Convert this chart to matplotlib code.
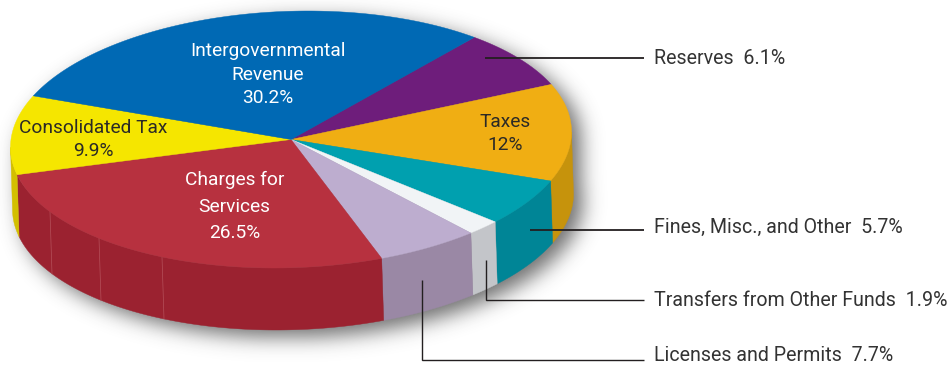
import numpy as np
import matplotlib
matplotlib.use("Agg")
import matplotlib.pyplot as plt
from matplotlib.patches import Polygon

# Budget shares, clockwise from the upper right of the disc
categories = ["Reserves", "Taxes", "Fines, Misc., and Other", "Transfers from Other Funds",
              "Licenses and Permits", "Charges for Services", "Consolidated Tax",
              "Intergovernmental Revenue"]
shares = [6.1, 12.0, 5.7, 1.9, 7.7, 26.5, 9.9, 30.2]
tick_labels = ["6.1%", "12%", "5.7%", "1.9%", "7.7%", "26.5%", "9.9%", "30.2%"]

top_colors = ["#6E1D7B", "#F0AE13", "#00A0AF", "#F1F4F6", "#BDADCF", "#B7313F", "#F5E600", "#0069B4"]
side_colors = ["#6E1D7B", "#C6930C", "#008596", "#C3C5C9", "#9A88A5", "#9B2230", "#D3BF00", "#0069B4"]

FONT = ["Roboto", "Liberation Sans", "DejaVu Sans"]
INK = "#2B2A26"
SIZE_IN = 13.8
SIZE_OUT = 14.15

# Disc geometry in figure pixels; SKEW leans the ellipse up to the right
CX, CY, RX, RY = 291.0, 139.5, 280.5, 128.5
SKEW = 3.44
DEPTH, SLANT = 62.0, 2.0
START = 49.2

# Foreshortening of the drawn disc: offset (degrees) added to the angle on its way round
TILT_AT = [0.0, 22.0, 65.2, 85.7, 92.5, 120.2, 215.6, 251.2, 360.0]
TILT_BY = [0.0, -5.3, -6.3, -6.8, -6.8, -0.1, -1.1, -1.2, 0.0]


def project(sweep):
    """Clockwise sweep from the start angle to the ellipse parameter in degrees."""
    return START - np.asarray(sweep) + np.interp(sweep, TILT_AT, TILT_BY)


def rim(t_deg, drop=0.0):
    t = np.radians(t_deg)
    shift = SLANT if drop else 0.0
    return np.column_stack([CX + shift + RX * np.cos(t),
                            CY + drop - RY * np.sin(t + np.radians(SKEW))])


fig = plt.figure(figsize=(9.49, 3.66), dpi=100, facecolor="white")
ax = fig.add_axes([0, 0, 1, 1])

# Soft drop shadow under the whole solid, blurred on a padded canvas
H, W, PAD = 366, 949, 60
yy, xx = np.mgrid[-PAD:H + PAD, -PAD:W + PAD]
off_x, off_y = 9.0, 7.0
s_k, c_k = np.sin(np.radians(SKEW)), np.cos(np.radians(SKEW))


def in_disc(dx, dy):
    u, v = dx / RX, -dy / RY
    return u ** 2 + v ** 2 - 2 * s_k * u * v <= c_k ** 2


inside = in_disc(xx - CX - off_x, yy - CY - off_y)
inside |= in_disc(xx - CX - off_x - SLANT, yy - CY - off_y - DEPTH)
inside |= (np.abs(xx - CX - off_x) <= RX) & (yy >= CY + off_y) & (yy <= CY + off_y + DEPTH)
fy = np.fft.fftfreq(H + 2 * PAD)[:, None]
fx = np.fft.fftfreq(W + 2 * PAD)[None, :]
sigma = 10.0
blur = np.fft.ifft2(np.fft.fft2(inside.astype(float)) * np.exp(-2 * (np.pi * sigma) ** 2 * (fx ** 2 + fy ** 2))).real
blur = blur[PAD:PAD + H, PAD:PAD + W]
shadow = np.zeros((H, W, 4))
shadow[..., :3] = 0.22
shadow[..., 3] = np.clip(blur, 0, 1) * 0.72
ax.imshow(shadow, extent=(0, W, H, 0), zorder=0, interpolation="bilinear", aspect="auto")
ax.set_xlim(0, 949)
ax.set_ylim(366, 0)
ax.axis("off")

edges = np.concatenate([[0.0], np.cumsum(shares) / np.sum(shares) * 360.0])

# Side wall: only the front half of the rim is visible
for a, b, col in zip(edges[:-1], edges[1:], side_colors):
    sweep = np.linspace(a, b, 240)
    t = project(sweep)
    t = (t + 180) % 360 - 180
    keep = t <= 0.0
    if keep.sum() < 2:
        continue
    top = rim(t[keep])
    bottom = rim(t[keep], DEPTH)
    ax.add_patch(Polygon(np.vstack([top, bottom[::-1]]), closed=True, facecolor=col,
                         edgecolor=col, lw=0.3, zorder=2))

# Faint facet seams on the red wall
for x_seam in [50.0, 99.0, 162.0]:
    t_seam = -np.degrees(np.arccos((x_seam - CX) / RX))
    p0 = rim(t_seam)[0]
    p1 = rim(t_seam, DEPTH)[0]
    ax.plot([p0[0], p1[0]], [p0[1], p1[1]], color="#B5505A", lw=0.5, zorder=3)

# Top face of the disc
for a, b, col in zip(edges[:-1], edges[1:], top_colors):
    arc = rim(project(np.linspace(a, b, 240)))
    ax.add_patch(Polygon(np.vstack([[CX, CY], arc]), closed=True, facecolor=col,
                         edgecolor=col, lw=0.3, zorder=4))

# Labels printed on the slices
ax.text(267.5, 74.5, "Intergovernmental\nRevenue\n" + tick_labels[7], color="white", ha="center",
        va="center", family=FONT, fontsize=SIZE_IN, linespacing=1.4, zorder=6)
ax.text(505, 133.5, "Taxes\n" + tick_labels[1], color=INK, ha="center", va="center",
        family=FONT, fontsize=SIZE_IN, linespacing=1.4, zorder=6)
ax.text(93.5, 139.5, "Consolidated Tax\n" + tick_labels[6], color=INK, ha="center", va="center",
        family=FONT, fontsize=SIZE_IN, linespacing=1.4, zorder=6)
ax.text(234.5, 206.5, "Charges for\nServices\n" + tick_labels[5], color="white", ha="center",
        va="center", family=FONT, fontsize=SIZE_IN, linespacing=1.58, zorder=6)

# Callouts with leader lines
callouts = [
    (0, 58.5, [(485, 57.5), (644, 57.5)], 1.3),
    (2, 227, [(530, 229.8), (644, 229.8)], 1.3),
    (3, 300.5, [(486, 260), (486, 299.6), (644, 299.6)], 1.0),
    (4, 355.5, [(422.5, 280), (422.5, 360), (644, 360)], 1.0),
]
for idx, y_text, path, lw in callouts:
    px, py = zip(*path)
    ax.plot(px, py, color="#231F20", lw=lw, solid_joinstyle="miter", solid_capstyle="butt", zorder=7)
    ax.text(654, y_text, f"{categories[idx]}  {tick_labels[idx]}", color="#333333", ha="left",
            va="center", family=FONT, fontsize=SIZE_OUT, zorder=7)

fig.savefig("out.png", dpi=100, facecolor="white")
